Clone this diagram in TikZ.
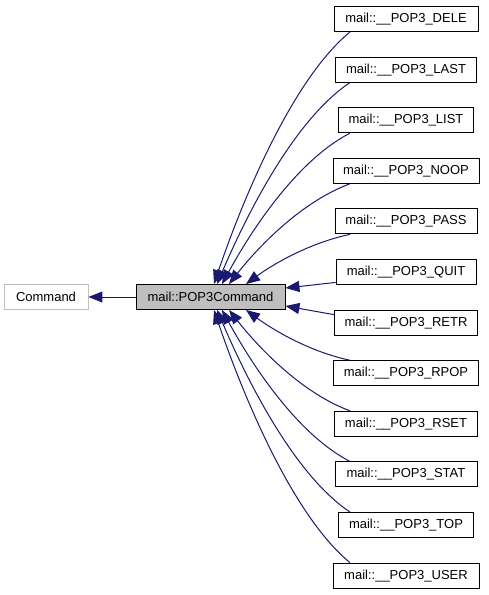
\documentclass[tikz,border=0pt]{standalone}
\usepackage{fontspec}
\setmainfont{Liberation Sans}
\usetikzlibrary{arrows.meta}
\definecolor{mnavy}{HTML}{191970}
\definecolor{mgray}{HTML}{BFBFBF}
\tikzset{cls/.style = {draw, line width=0.9pt, minimum height=25pt, inner sep=0pt,
                       font=\fontsize{13}{15}\selectfont},
         inherit/.style = {mnavy, line width=1pt,
                           -{Triangle[length=14pt,width=11pt]}}}

\begin{document}
\begin{tikzpicture}[x=1pt, y=-1pt]
    \useasboundingbox (0, 0) rectangle (488, 595);

    \node [cls, draw=mgray, minimum width=84pt] (cmd) at (46, 297) {Command};
    \node [cls, fill=mgray, minimum width=149pt] (pop) at (210.5, 297) {mail::POP3Command};
    \draw [inherit] (pop.west) -- (cmd.east);

    \node [cls, minimum width=144pt] (dele) at (406, 19) {mail::\_\_POP3\_DELE};
    \node [cls, minimum width=141pt] (last) at (406, 69.6) {mail::\_\_POP3\_LAST};
    \node [cls, minimum width=135pt] (list) at (406, 120.2) {mail::\_\_POP3\_LIST};
    \node [cls, minimum width=146pt] (noop) at (406, 170.8) {mail::\_\_POP3\_NOOP};
    \node [cls, minimum width=142pt] (pass) at (406, 221.4) {mail::\_\_POP3\_PASS};
    \node [cls, minimum width=140pt] (quit) at (406, 272) {mail::\_\_POP3\_QUIT};
    \node [cls, minimum width=143pt] (retr) at (406, 322.6) {mail::\_\_POP3\_RETR};
    \node [cls, minimum width=145pt] (rpop) at (406, 373.2) {mail::\_\_POP3\_RPOP};
    \node [cls, minimum width=143pt] (rset) at (406, 423.8) {mail::\_\_POP3\_RSET};
    \node [cls, minimum width=142pt] (stat) at (406, 474.4) {mail::\_\_POP3\_STAT};
    \node [cls, minimum width=135pt] (top) at (406, 525) {mail::\_\_POP3\_TOP};
    \node [cls, minimum width=146pt] (user) at (406, 575.6) {mail::\_\_POP3\_USER};

    % upper subclasses
    \draw [inherit] ([xshift=-56pt]dele.south) .. controls +(-61, 50) and +(24, -71) .. ([xshift=3.5pt]pop.north);
    \draw [inherit] ([xshift=-56pt]last.south) .. controls +(-60, 40) and +(24, -56) .. ([xshift=6.5pt]pop.north);
    \draw [inherit] ([xshift=-56pt]list.south) .. controls +(-58, 30) and +(23, -42) .. ([xshift=11.5pt]pop.north);
    \draw [inherit] ([xshift=-56pt]noop.south) .. controls +(-54, 20) and +(22, -28) .. ([xshift=18.5pt]pop.north);
    \draw [inherit] ([xshift=-56pt]pass.south) .. controls +(-47, 10) and +(19, -14) .. ([xshift=35.5pt]pop.north);
    \draw [inherit] ([yshift=2.5pt]quit.south west) -- ([yshift=9pt]pop.east);
    % lower subclasses
    \draw [inherit] ([yshift=-5pt]retr.north west) -- ([yshift=-9pt]pop.east);
    \draw [inherit] ([xshift=-56pt]rpop.north) .. controls +(-47, -10) and +(19, 14) .. ([xshift=35.5pt]pop.south);
    \draw [inherit] ([xshift=-56pt]rset.north) .. controls +(-54, -20) and +(22, 28) .. ([xshift=18.5pt]pop.south);
    \draw [inherit] ([xshift=-56pt]stat.north) .. controls +(-58, -30) and +(23, 42) .. ([xshift=11.5pt]pop.south);
    \draw [inherit] ([xshift=-56pt]top.north) .. controls +(-60, -40) and +(24, 56) .. ([xshift=6.5pt]pop.south);
    \draw [inherit] ([xshift=-56pt]user.north) .. controls +(-61, -50) and +(24, 71) .. ([xshift=3.5pt]pop.south);
\end{tikzpicture}
\end{document}
